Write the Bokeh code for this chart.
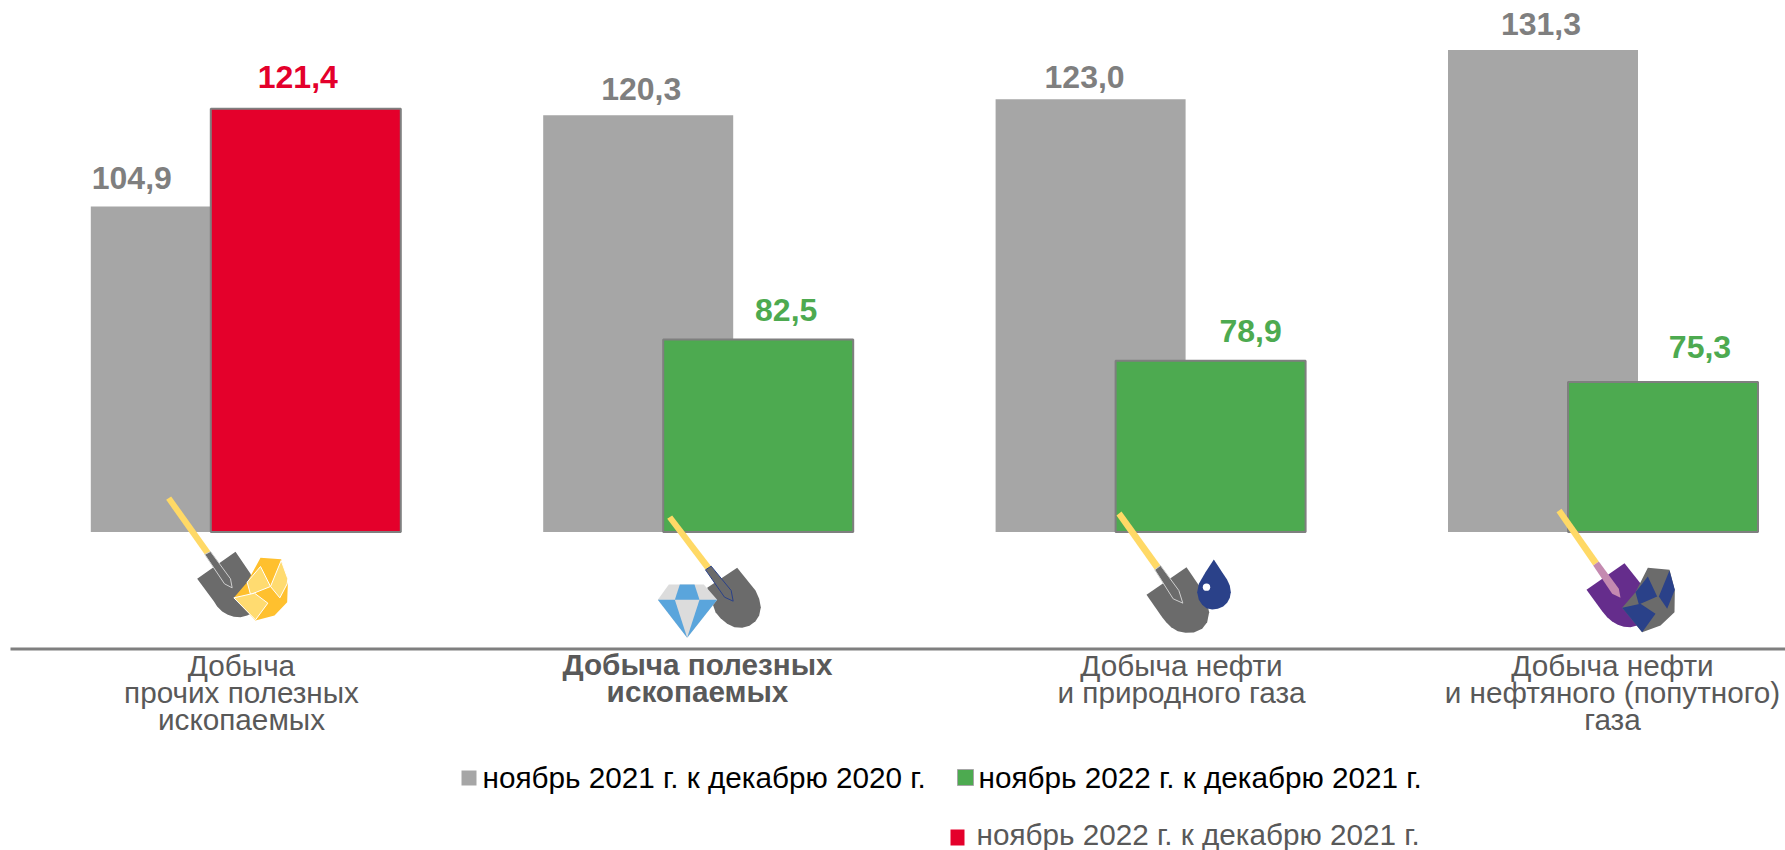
from bokeh.plotting import figure
from bokeh.embed import file_html
from bokeh.resources import INLINE
from bokeh.models import Range1d
from bokeh.core.properties import value

categories = ["Добыча\nпрочих полезных\nископаемых", "Добыча полезных\nископаемых",
              "Добыча нефти\nи природного газа", "Добыча нефти\nи нефтяного (попутного)\nгаза"]
series_2021 = [104.9, 120.3, 123.0, 131.3]
series_2022 = [121.4, 82.5, 78.9, 75.3]
colors_2022 = ["#E4002B", "#4DAA50", "#4DAA50", "#4DAA50"]
label_colors_2022 = ["#E4002B", "#4DAA50", "#4DAA50", "#4DAA50"]
legend_labels = ["ноябрь 2021 г. к декабрю 2020 г.", "ноябрь 2022 г. к декабрю 2021 г.", "ноябрь 2022 г. к декабрю 2021 г."]

# layout constants (page pixels); Bokeh's page template has no body margin
W, H, M = 1785, 850, 0
CX0, CSTEP = 245.3, 452.4
BASE_PX, PX_PER_UNIT, BASE_VAL = 531.6, 5.93, 50.0
BAR_W, DODGE = 190 / CSTEP, 60 / CSTEP
FONT = value("Liberation Sans")
DARK = "#595959"

p = figure(width=W - M, height=H - M, output_backend="svg", toolbar_location=None,
           x_axis_type=None, y_axis_type=None, min_border=0,
           x_range=Range1d((M - CX0) / CSTEP, (W - CX0) / CSTEP),
           y_range=Range1d(BASE_VAL + (BASE_PX - H) / PX_PER_UNIT, BASE_VAL + (BASE_PX - M) / PX_PER_UNIT))
p.outline_line_color = None
p.grid.visible = False
p.extra_x_ranges["px"] = Range1d(M, W)
p.extra_y_ranges["px"] = Range1d(H, M)

idx = list(range(len(categories)))
p.vbar(x=[i - DODGE for i in idx], top=series_2021, bottom=BASE_VAL, width=BAR_W, color="#A6A6A6", line_color=None)
p.vbar(x=[i + DODGE for i in idx], top=series_2022, bottom=BASE_VAL, width=BAR_W, fill_color=colors_2022,
       line_color="#7F7F7F", line_width=2)


def fmt(v):
    return f"{v:.1f}".replace(".", ",")


off_gray_x, off_gray_y = [-54, 3, -6, -2], [-29, -26.5, -22, -26]
off_new_x, off_new_y = [-8, 28, 40, 37], [-32, -29, -30, -35]
p.text(x=[i - DODGE for i in idx], y=series_2021, text=[fmt(v) for v in series_2021],
       x_offset=off_gray_x, y_offset=off_gray_y, text_color="#7F7F7F", text_font=FONT,
       text_font_style="bold", text_font_size=value("32px"), text_align="center", text_baseline="middle")
p.text(x=[i + DODGE for i in idx], y=series_2022, text=[fmt(v) for v in series_2022],
       x_offset=off_new_x, y_offset=off_new_y, text_color=label_colors_2022, text_font=FONT,
       text_font_style="bold", text_font_size=value("32px"), text_align="center", text_baseline="middle")

PX = dict(x_range_name="px", y_range_name="px")
# axis line
p.segment(x0=[10], x1=[W], y0=[648.5], y1=[648.5], line_color="#7F7F7F", line_width=3, **PX)

# category labels
cat_x = [241, 697, 1181, 1612]
cat_y = [648, 647, 648, 648]
styles = ["normal", "bold", "normal", "normal"]
for i, c in enumerate(categories):
    p.text(x=[cat_x[i]], y=[cat_y[i]], text=[c], text_color=DARK, text_font=FONT, text_font_style=styles[i],
           text_font_size=value("29.7px"), text_line_height=0.825, text_align="center", text_baseline="top", **PX)

# legend
sw = [(461, 476, 770, 785, "#A6A6A6", None), (957, 973, 769, 785, "#4DAA50", "#A6A6A6"), (950, 964, 829, 845, "#E4002B", None)]
for x0, x1, y0, y1, c, lc in sw:
    p.quad(left=[x0], right=[x1], top=[y0], bottom=[y1], fill_color=c, line_color=lc, line_width=1, **PX)
for x, y, t, c in [(482, 777, legend_labels[0], "#000000"), (978, 777, legend_labels[1], "#000000"), (976, 833.5, legend_labels[2], DARK)]:
    p.text(x=[x], y=[y], text=[t], text_color=c, text_font=FONT, text_font_size=value("29.7px"),
           text_align="left", text_baseline="middle", **PX)


# icons: polygons given in 3x-zoomed crop coordinates
def poly(origin, pts, fill, line=None, lw=1):
    xs = [origin[0] + a / 3 for a, b in pts]
    ys = [origin[1] + b / 3 for a, b in pts]
    p.patch(xs, ys, fill_color=fill, line_color=line, line_width=lw, **PX)


YEL, GR, NAVY, LG, AMB, LAMB = "#FFD966", "#6B6B6B", "#2A4189", "#CFCFCF", "#FFC02E", "#FFDB70"
BLADE = [(140, 295), (255, 214), (300, 280), (322, 345), (310, 395), (290, 405), (270, 410), (250, 409), (232, 403), (215, 393), (200, 378), (190, 362)]

# icon 1
o = (150, 480)
poly(o, BLADE, GR)
poly(o, [(47, 58), (62, 48), (180, 213), (163, 222)], YEL)
poly(o, [(163, 222), (180, 213), (240, 295), (245, 322), (222, 310)], GR, LG)
poly(o, [(330, 232), (392, 236), (412, 310), (410, 365), (372, 405), (315, 420), (250, 352), (290, 305)], AMB)
poly(o, [(330, 258), (360, 318), (300, 342), (290, 305)], LAMB, "#FFFFFF")
poly(o, [(392, 240), (412, 295), (410, 310), (388, 352), (360, 318)], LAMB, "#FFFFFF")
poly(o, [(250, 352), (312, 338), (352, 368), (315, 418)], LAMB, "#FFFFFF")

# icon 2
o = (640, 500)
poly(o, [(200, 262), (290, 202), (345, 270), (356, 295), (361, 320), (356, 345), (345, 362), (327, 376), (305, 382), (282, 380), (260, 370), (240, 353), (225, 335)], GR)
poly(o, [(80, 55), (95, 45), (212, 197), (195, 208)], YEL)
poly(o, [(195, 208), (212, 197), (272, 270), (278, 302), (252, 290)], GR, NAVY)
poly(o, [(85, 252), (190, 252), (230, 298), (140, 412), (52, 298)], "#DCDCDC")
poly(o, [(118, 252), (162, 252), (177, 298), (103, 298)], "#5AA5DC")
poly(o, [(52, 298), (103, 298), (140, 412)], "#5AA5DC")
poly(o, [(177, 298), (230, 298), (140, 412)], "#5AA5DC")

# icon 3
o = (1100, 500)
poly(o, [(138, 283), (258, 200), (300, 262), (318, 300), (326, 335), (320, 365), (305, 385), (280, 396), (255, 397), (232, 392), (212, 380), (197, 365), (185, 350)], GR)
poly(o, [(48, 45), (63, 33), (180, 195), (163, 208)], YEL)
poly(o, [(163, 208), (180, 195), (235, 270), (247, 308), (218, 295)], GR, LG)
poly(o, [(340, 177), (365, 215), (380, 238), (388, 256), (391, 275), (388, 292), (380, 307), (368, 318), (352, 325), (335, 327), (318, 323), (305, 313), (295, 298), (290, 275), (295, 250), (315, 215)], NAVY)
p.circle(x=[o[0] + 318 / 3], y=[o[1] + 260 / 3], radius=3.7, fill_color="#FFFFFF", line_color=None, **PX)

# icon 4
o = (1540, 490)
poly(o, [(138, 298), (252, 218), (305, 285), (315, 350), (290, 405), (270, 410), (250, 409), (232, 403), (215, 393), (200, 380), (185, 362)], "#652D8C")
poly(o, [(48, 65), (63, 55), (175, 213), (158, 225)], YEL)
poly(o, [(158, 225), (175, 213), (235, 295), (240, 322), (215, 310)], "#C48AB0")
poly(o, [(322, 232), (387, 238), (403, 300), (402, 365), (360, 405), (305, 425), (245, 352), (285, 305)], GR)
poly(o, [(322, 258), (350, 318), (295, 342), (285, 305)], NAVY)
poly(o, [(387, 240), (403, 298), (380, 355), (355, 318)], NAVY)
poly(o, [(245, 352), (300, 340), (345, 370), (305, 425)], NAVY)

open("out.html", "w").write(file_html(p, INLINE))
